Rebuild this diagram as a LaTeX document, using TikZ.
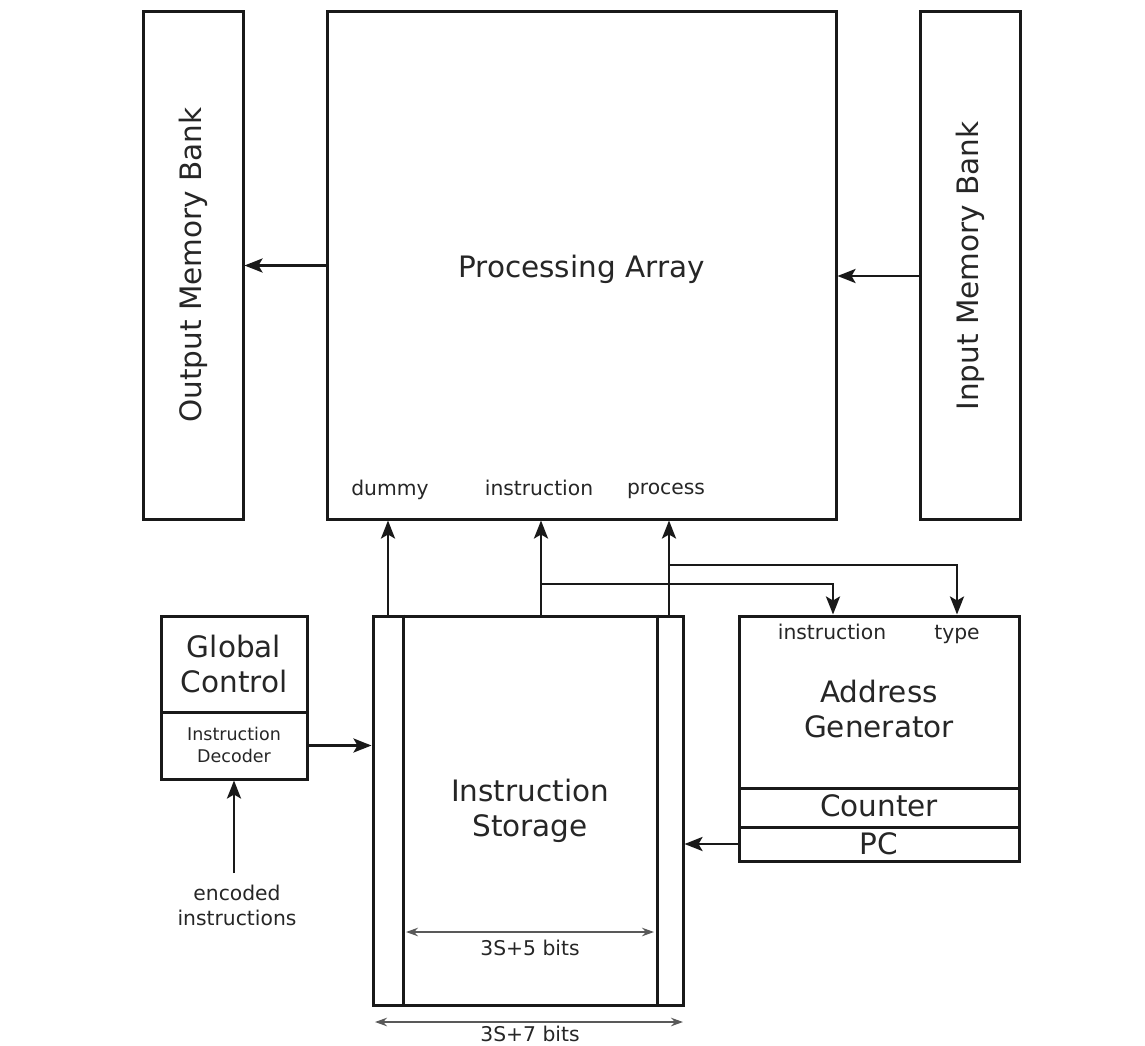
\documentclass[tikz,border=0pt]{standalone}
\usepackage{fontspec}
\setmainfont{DejaVu Sans}
\usetikzlibrary{arrows.meta}
\begin{document}
\begin{tikzpicture}[x=1pt,y=-1pt,
  block/.style={draw=black!90, line width=3pt, inner sep=0pt},
  big/.style={font=\fontsize{29.5}{35}\selectfont, align=center, text=black!85},
  mid/.style={font=\fontsize{20.3}{25}\selectfont, align=center, text=black!85},
  small/.style={font=\fontsize{17.5}{22}\selectfont, align=center, text=black!85},
  onebig/.style={big, text height=21.5pt, text depth=6.5pt, inner sep=0pt},
  onemid/.style={mid, text height=15pt, text depth=4.5pt, inner sep=0pt},
  sig/.style={draw=black!90, line width=2.8pt, -{Stealth[length=18pt,width=14pt,inset=4pt]}},
  dimline/.style={draw=black!65, line width=1.8pt,
    {Stealth[length=12pt,width=8.5pt]}-{Stealth[length=12pt,width=8.5pt]}},
]
\useasboundingbox (0,0) rectangle (1145,1046);

% top row: memory banks and the processing array
\node[block, minimum width=100pt, minimum height=507pt] (omb) at (193,265.5) {};
\node[block, minimum width=509pt, minimum height=507pt] (pa) at (581.5,265.5) {};
\node[block, minimum width=100pt, minimum height=507pt] (imb) at (970,265.5) {};
\node[big, rotate=90] (ombtext) at (193,265) {Output Memory Bank};
\node[big, rotate=90] (imbtext) at (970,266) {Input Memory Bank};
\node[onebig] (patext) at (581.5,270) {Processing Array};
\node[onemid] (pdummy) at (390,490) {dummy};
\node[onemid] (pinstr) at (539,490) {instruction};
\node[onemid] (pproc) at (666,489) {process};

% instruction storage with its two side columns
\node[block, minimum width=310pt, minimum height=389pt] (is) at (528,810.5) {};
\coordinate (isL) at (403,0);
\coordinate (isR) at (657,0);
\draw[block] (isL |- is.north) -- (isL |- is.south);
\draw[block] (isR |- is.north) -- (isR |- is.south);
\node[big] (istext) at (530,811) {Instruction\\Storage};

% global control
\node[block, minimum width=146pt, minimum height=96pt] (gc) at (234,664) {};
\node[block, minimum width=146pt, minimum height=67pt] (id) at (234,745.5) {};
\node[big] (gctext) at (234,664) {Global\\Control};
\node[small] (idtext) at (234,745) {Instruction\\Decoder};
\node[mid] (enc) at (237,905) {encoded\\instructions};
\coordinate (encTop) at (234,873);

% address generator
\node[block, minimum width=280pt, minimum height=172pt] (ag) at (879,702) {};
\node[block, minimum width=280pt, minimum height=39pt] (cnt) at (879,807.5) {};
\node[block, minimum width=280pt, minimum height=34pt] (pc) at (879,844) {};
\node[onemid] (aginstr) at (832,634) {instruction};
\node[onemid] (agtype) at (957,634) {type};
\node[big] (agtext) at (879,709) {Address\\Generator};
\node[onebig] (cnttext) at (879,809) {Counter};
\node[onebig] (pctext) at (879,847) {PC};

% signal connections
\draw[sig] (pa.west) -- (omb.east);
\draw[sig] ([yshift=-10.5pt]imb.west) -- ([yshift=-10.5pt]pa.east);

\coordinate (xd) at (388,0);
\coordinate (xi) at (541,0);
\coordinate (xp) at (669,0);
\coordinate (ji) at (541,584);
\coordinate (jp) at (669,565);
\coordinate (xagi) at (833,0);
\coordinate (xagt) at (957,0);

\draw[sig] (xd |- is.north) -- (xd |- pa.south);
\draw[sig] (xi |- is.north) -- (xi |- pa.south);
\draw[sig] (xp |- is.north) -- (xp |- pa.south);
\draw[sig] (ji) -| (xagi |- ag.north);
\draw[sig] (jp) -| (xagt |- ag.north);

\draw[sig] (id.east) -- (id.east -| is.west);
\draw[sig] (encTop) -- (id.south);
\draw[sig] (pc.west) -- (pc.west -| is.east);

% word widths
\coordinate (w5a) at (406,932);
\coordinate (w5b) at (654,932);
\coordinate (w7a) at (375,1022);
\coordinate (w7b) at (683,1022);
\draw[dimline] (w5a) -- (w5b);
\draw[dimline] (w7a) -- (w7b);
\node[onemid] (w5) at (530,950) {3S+5 bits};
\node[mid, text height=15pt, text depth=0pt, inner sep=0pt] (w7) at (530,1034) {3S+7 bits};
\end{tikzpicture}
\end{document}
